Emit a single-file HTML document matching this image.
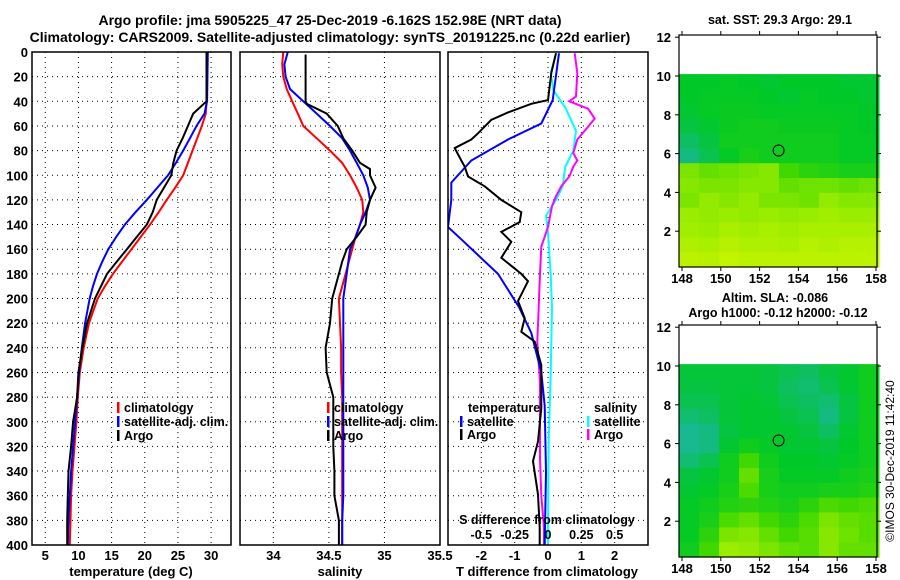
<!DOCTYPE html>
<html><head><meta charset="utf-8">
<style>
html,body{margin:0;padding:0;background:#fff;}
svg{display:block;font-family:"Liberation Sans",sans-serif;font-weight:bold;}
</style></head>
<body>
<svg id="fig" width="900" height="580" viewBox="0 0 900 580" xmlns="http://www.w3.org/2000/svg">
<rect width="900" height="580" fill="#fff"/>
<text x="330" y="25" text-anchor="middle" font-size="14">Argo profile: jma 5905225_47 25-Dec-2019 -6.162S 152.98E (NRT data)</text>
<text x="330" y="42" text-anchor="middle" font-size="14">Climatology: CARS2009. Satellite-adjusted climatology: synTS_20191225.nc (0.22d earlier)</text>
<text x="780" y="24" text-anchor="middle" font-size="12.5">sat. SST: 29.3 Argo: 29.1</text>
<text x="775" y="302" text-anchor="middle" font-size="12.5">Altim. SLA: -0.086</text>
<text x="778" y="317" text-anchor="middle" font-size="12.5">Argo h1000: -0.12 h2000: -0.12</text>
<text transform="translate(894,461) rotate(-90)" text-anchor="middle" font-size="12" font-weight="normal">©IMOS 30-Dec-2019 11:42:40</text>
<g id="plots"></g>
</svg>
<script>
// ---------- profile data ----------
const tDepth   = [0,40,50,60,70,80,90,100,110,120,130,140,150,160,170,180,190,200,220,240,260,280,300,320,340,360,380,400];
const tClim    = [29.3,29.3,29.2,28.6,27.9,27.2,26.5,25.8,24.6,23.3,22.1,20.8,19.4,18.0,16.6,15.2,14.0,12.9,11.6,10.8,10.2,9.9,9.7,9.4,9.1,8.9,8.8,8.7];
const tSat     = [29.5,29.4,29.0,27.8,26.8,25.8,24.7,23.5,21.9,20.3,18.6,17.0,15.7,14.5,13.6,12.8,12.2,11.7,11.0,10.5,10.1,9.8,9.5,9.2,8.9,8.7,8.5,8.4];
const tArgo    = [29.3,29.3,27.3,26.5,25.7,24.8,24.3,24.0,22.9,21.8,21.2,20.3,18.8,17.3,15.8,14.3,13.4,12.5,11.3,10.6,10.0,9.8,9.2,8.9,8.5,8.4,8.3,8.3];

const sDepth   = [0,10,20,30,40,50,60,70,80,90,100,110,120,130,140,150,160,180,200,220,240,260,280,300,320,340,360,380,400];
const sClim    = [34.09,34.08,34.09,34.12,34.17,34.22,34.27,34.39,34.51,34.62,34.69,34.75,34.80,34.81,34.78,34.74,34.71,34.65,34.59,34.60,34.61,34.61,34.62,34.62,34.62,34.62,34.62,34.62,34.62];
const sSat     = [34.13,34.10,34.11,34.15,34.27,34.39,34.51,34.62,34.69,34.75,34.81,34.85,34.87,34.83,34.78,34.74,34.69,34.66,34.63,34.63,34.63,34.63,34.63,34.63,34.63,34.63,34.63,34.62,34.62];
const sArgoDepth = [2,40,42,50,55,60,70,80,90,95,100,110,120,130,140,150,160,170,180,200,220,240,260,270,280,300,320,340,360,380,400];
const sArgo      = [34.29,34.29,34.30,34.48,34.53,34.58,34.63,34.71,34.78,34.87,34.87,34.92,34.87,34.84,34.83,34.75,34.66,34.62,34.59,34.53,34.51,34.47,34.48,34.51,34.54,34.54,34.54,34.55,34.55,34.59,34.59];

const dtSatDepth = [1,39,58,71,88,106,120,142,152,180,207,228,260,287,341,400];
const dtSat      = [0.33,0.14,-0.2,-1.2,-2.3,-2.9,-2.9,-3.0,-2.6,-1.5,-0.87,-0.5,-0.2,-0.1,-0.06,-0.1];
const dtArgoDepth = [1,17,39,42,49,55,66,71,78,88,93,101,109,120,130,138,146,154,167,180,186,202,216,227,235,254,289,316,332,359,386,400];
const dtArgo      = [0.24,0.1,0,-0.5,-1.2,-1.7,-2.1,-2.3,-2.8,-2.6,-2.5,-2.4,-1.9,-1.4,-0.8,-0.85,-1.4,-1.1,-1.4,-0.8,-0.6,-0.9,-0.7,-0.8,-0.4,-0.2,-0.2,-0.3,-0.45,-0.3,-0.25,-0.25];
const dsSatDepth = [1,17,31,45,64,80,93,109,120,133,147,180,207,261,316,386,400];
const dsSat      = [0.06,0.02,0.04,0.13,0.21,0.19,0.13,0.11,0.06,-0.015,0,0.02,0.03,0.02,0.005,0,0];
const dsArgoDepth = [1,17,36,40,46,54,62,71,82,88,93,101,109,117,125,142,158,180,207,235,268,300,330,360,386,400];
const dsArgo      = [0.2,0.22,0.21,0.16,0.3,0.35,0.29,0.22,0.19,0.22,0.19,0.16,0.1,0.06,0.03,0,-0.05,-0.06,-0.07,-0.08,-0.06,-0.06,-0.06,-0.05,-0.03,-0.03];

const depthTicks = [0,20,40,60,80,100,120,140,160,180,200,220,240,260,280,300,320,340,360,380,400];
const tTicks = [5,10,15,20,25,30];
const sTicks = ["34","34.5","35","35.5"];
const dtTicks = [-2,-1,0,1,2];
const dsTicks = ["-0.5","-0.25","0","0.25","0.5"];

// ---------- map data (colour index 0..1, rows north->south) ----------
const sstMap = [
[.47,.47,.48,.47,.46,.47,.47,.47,.46,.46],
[.47,.48,.48,.48,.47,.46,.48,.47,.47,.46],
[.46,.48,.49,.49,.48,.48,.48,.48,.48,.47],
[.44,.46,.49,.50,.50,.49,.49,.49,.48,.47],
[.40,.44,.50,.50,.50,.50,.50,.50,.48,.48],
[.36,.42,.48,.52,.50,.50,.50,.50,.48,.48],
[.70,.66,.68,.70,.72,.60,.56,.54,.52,.52],
[.72,.70,.70,.72,.72,.66,.68,.68,.66,.68],
[.70,.74,.72,.74,.70,.70,.68,.74,.72,.72],
[.76,.74,.76,.74,.76,.74,.76,.78,.76,.76],
[.78,.76,.80,.78,.80,.78,.80,.80,.80,.80],
[.82,.80,.84,.82,.82,.80,.84,.82,.84,.84],
[.86,.84,.88,.86,.86,.86,.86,.86,.86,.86]];
const slaMap = [
[.45,.45,.45,.45,.44,.42,.40,.44,.46,.50],
[.44,.44,.45,.45,.44,.40,.38,.42,.46,.50],
[.42,.42,.45,.46,.45,.42,.40,.38,.44,.50],
[.38,.40,.45,.46,.46,.44,.42,.36,.44,.50],
[.34,.36,.44,.46,.46,.46,.44,.40,.46,.50],
[.34,.36,.46,.50,.48,.46,.46,.44,.47,.50],
[.38,.42,.50,.60,.50,.47,.47,.46,.48,.50],
[.44,.46,.50,.66,.52,.48,.48,.48,.50,.52],
[.46,.48,.52,.62,.52,.50,.50,.52,.52,.54],
[.48,.50,.54,.56,.54,.52,.56,.62,.60,.62],
[.48,.52,.62,.66,.60,.56,.62,.70,.66,.64],
[.48,.56,.70,.72,.66,.60,.64,.72,.68,.64],
[.50,.60,.76,.74,.70,.66,.64,.72,.66,.66]];
const lonTicks = [148,150,152,154,156,158];
const latTicks = [2,4,6,8,10,12];
const argoLon = 152.98, argoLat = 6.162;

// ---------- helpers ----------
const NS = "http://www.w3.org/2000/svg";
const root = document.getElementById('plots');
function mk(tag, attrs, parent){
  const e = document.createElementNS(NS, tag);
  for (const k in attrs) e.setAttribute(k, attrs[k]);
  (parent||root).appendChild(e);
  return e;
}
const TOP = 52, BOT = 545;
const yD = d => TOP + d * (BOT - TOP) / 400;
const P1 = {l:32, r:231, x: v => 32 + (v - 3) * 199/30};
const P2 = {l:240, r:440, x: v => 240 + (v - 33.7) * 200/1.8};
const P3 = {l:448, r:648, x: v => 548 + v * 100/3, xs: v => 548 + v * 400/3};

function panel(p, name){
  const g = mk('g', {});
  
  
  return g;
}
function vgrid(g, xs){
  xs.forEach(x => {
    const l = mk('line', {x1:x, x2:x, y1:TOP, y2:BOT, stroke:'#000', 'stroke-width':1, 'stroke-dasharray':'1,4'}, g);
    
    
  });
}
function hgrid(g, p){
  depthTicks.forEach(d => {
    if (d === 0 || d === 400) return;
    const l = mk('line', {x1:p.l, x2:p.r, y1:yD(d), y2:yD(d), stroke:'#000', 'stroke-width':1, 'stroke-dasharray':'1,4'}, g);
    
    
  });
}
function line(g, depths, vals, fx, color, name, w){
  const pts = depths.map((d,i) => fx(vals[i]).toFixed(1) + ',' + yD(d).toFixed(1)).join(' ');
  const pl = mk('polyline', {points:pts, fill:'none', stroke:color, 'stroke-width':w||2, 'stroke-linejoin':'miter'}, g);
  
  
  return pl;
}
function frame(g, p){
  const r = mk('rect', {x:p.l, y:TOP, width:p.r-p.l, height:BOT-TOP, fill:'none', stroke:'#000', 'stroke-width':1.5}, g);
  
  
}
function txt(g, x, y, s, anchor, size, name){
  const t = mk('text', {x:x, y:y, 'text-anchor':anchor||'middle', 'font-size':size||12.5}, g);
  t.textContent = s;
  
  
  return t;
}
function legendEntry(g, x, y, color, label){
  const b = mk('rect', {x:x, y:y-10, width:2.5, height:11, fill:color}, g);
  
  
  txt(g, x+7, y, label, 'start', 12.5, 'legend-label');
}

// ---------- panel 1: temperature ----------
const g1 = panel(P1, 'temperature-panel');
vgrid(g1, tTicks.map(P1.x)); hgrid(g1, P1);
line(g1, tDepth, tClim, P1.x, '#f00', 'temp-climatology-line');
line(g1, tDepth, tSat, P1.x, '#00f', 'temp-satellite-line');
line(g1, tDepth, tArgo, P1.x, '#000', 'temp-argo-line');
frame(g1, P1);
depthTicks.forEach(d => txt(g1, 28, yD(d)+5, String(d), 'end', 13, 'depth-tick-label'));
tTicks.forEach(v => txt(g1, P1.x(v), 560, String(v), 'middle', 13, 'temp-tick-label'));
txt(g1, 131, 576, 'temperature (deg C)', 'middle', 13, 'temp-axis-title');
legendEntry(g1, 117, 412, '#f00', 'climatology');
legendEntry(g1, 117, 426, '#00f', 'satellite-adj. clim.');
legendEntry(g1, 117, 440, '#000', 'Argo');

// ---------- panel 2: salinity ----------
const g2 = panel(P2, 'salinity-panel');
vgrid(g2, sTicks.slice(0,3).map(s => P2.x(+s))); hgrid(g2, P2);
line(g2, sDepth, sClim, P2.x, '#f00', 'sal-climatology-line');
line(g2, sDepth, sSat, P2.x, '#00f', 'sal-satellite-line');
line(g2, sArgoDepth, sArgo, P2.x, '#000', 'sal-argo-line');
frame(g2, P2);
sTicks.forEach(s => txt(g2, P2.x(+s), 560, s, 'middle', 13, 'sal-tick-label'));
txt(g2, 340, 576, 'salinity', 'middle', 13, 'sal-axis-title');
legendEntry(g2, 327, 412, '#f00', 'climatology');
legendEntry(g2, 327, 426, '#00f', 'satellite-adj. clim.');
legendEntry(g2, 327, 440, '#000', 'Argo');

// ---------- panel 3: differences ----------
const g3 = panel(P3, 'difference-panel');
vgrid(g3, dtTicks.map(P3.x)); hgrid(g3, P3);
const cp = mk('clipPath', {id:'clip3'}, g3);
mk('rect', {x:P3.l, y:TOP, width:P3.r-P3.l, height:BOT-TOP}, cp);
const g3c = mk('g', {'clip-path':'url(#clip3)'}, g3);
line(g3c, dsSatDepth, dsSat, P3.xs, '#0ff', 'sdiff-satellite-line');
line(g3c, dsArgoDepth, dsArgo, P3.xs, '#f0f', 'sdiff-argo-line');
line(g3c, dtSatDepth, dtSat, P3.x, '#00f', 'tdiff-satellite-line');
line(g3c, dtArgoDepth, dtArgo, P3.x, '#000', 'tdiff-argo-line');
frame(g3, P3);
dtTicks.forEach(v => txt(g3, P3.x(v), 560, String(v), 'middle', 13, 'tdiff-tick-label'));
dsTicks.forEach(s => txt(g3, P3.xs(+s), 539, s, 'middle', 12.5, 'sdiff-tick-label'));
txt(g3, 547, 524, 'S difference from climatology', 'middle', 12.5, 'sdiff-axis-title');
txt(g3, 547, 576, 'T difference from climatology', 'middle', 13, 'tdiff-axis-title');
txt(g3, 468, 412, 'temperature', 'start', 12.5, 'legend-heading-temperature');
legendEntry(g3, 460, 426, '#00f', 'satellite');
legendEntry(g3, 460, 439, '#000', 'Argo');
txt(g3, 594, 412, 'salinity', 'start', 12.5, 'legend-heading-salinity');
legendEntry(g3, 587, 426, '#0ff', 'satellite');
legendEntry(g3, 587, 439, '#f0f', 'Argo');

// ---------- maps ----------
const stops = [[0,[0,0,255]],[0.2,[0,208,255]],[0.34,[24,184,144]],[0.47,[0,200,40]],[0.6,[64,216,0]],[0.75,[152,236,0]],[0.9,[200,244,0]],[1,[255,255,0]]];
function cmap(v){
  for (let i=1;i<stops.length;i++){
    if (v <= stops[i][0]){
      const a = stops[i-1], b = stops[i], t = (v-a[0])/(b[0]-a[0]);
      const c = a[1].map((x,j)=>Math.round(x+(b[1][j]-x)*t));
      return 'rgb('+c.join(',')+')';
    }
  }
  return 'rgb(255,255,0)';
}
function drawMap(off, data, name){
  const g = mk('g', {});
  
  
  const mx = lon => 682 + (lon-148)*19.4;
  const my = lat => off + 270 - lat*19.4;
  const L = 679, R = 877, T = off+35, B = off+267;
  const lat0 = 10.1, lat1 = 0.15, lon0 = 147.85, lon1 = 158.15;
  const rows = data.length, cols = data[0].length;
  const dLat = (lat0-lat1)/rows, dLon = (lon1-lon0)/cols;
  data.forEach((row, r) => row.forEach((v, c) => {
    const x = mx(lon0 + c*dLon), y = my(lat0 - r*dLat);
    const cell = mk('rect', {x:x.toFixed(1), y:y.toFixed(1), width:(dLon*19.4+0.6).toFixed(1), height:(dLat*19.4+0.6).toFixed(1), fill:cmap(v)}, g);
    
    
  }));
  const circ = mk('circle', {cx:mx(argoLon), cy:my(argoLat), r:5.5, fill:'none', stroke:'#000', 'stroke-width':1}, g);
  
  
  const fr = mk('rect', {x:L, y:T, width:R-L, height:B-T, fill:'none', stroke:'#000', 'stroke-width':1.2}, g);
  
  
  latTicks.forEach(lat => {
    mk('line', {x1:L-4, x2:L, y1:my(lat), y2:my(lat), stroke:'#000'}, g);
    mk('line', {x1:R, x2:R+4, y1:my(lat), y2:my(lat), stroke:'#000'}, g);
    txt(g, 671, my(lat)+5, String(lat), 'end', 13, 'map-lat-label');
  });
  lonTicks.forEach(lon => {
    mk('line', {x1:mx(lon), x2:mx(lon), y1:B, y2:B+4, stroke:'#000'}, g);
    mk('line', {x1:mx(lon), x2:mx(lon), y1:T-4, y2:T, stroke:'#000'}, g);
    txt(g, mx(lon), B+16, String(lon), 'middle', 13, 'map-lon-label');
  });
}
drawMap(0, sstMap, 'sst-map');
drawMap(290, slaMap, 'sla-map');
</script>
</body></html>
